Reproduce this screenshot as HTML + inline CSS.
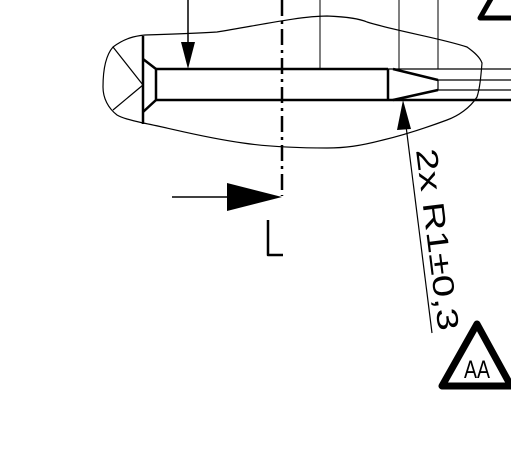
<!DOCTYPE html>
<html><head><meta charset="utf-8"><style>html,body{margin:0;padding:0;background:#fff}svg{display:block}</style></head>
<body>
<svg width="511" height="467" viewBox="0 0 511 467" xmlns="http://www.w3.org/2000/svg">
<g fill="none" stroke="#000" stroke-linejoin="round">
<path stroke-width="1.2" d="M113,47 C125,38 135,36 145,35 C175,34 200,33 217,32 C255,26 300,16 327,16 C350,17 360,19 367,22 C400,32 440,38 467,47 C474,52 480,57 482,63 C481,75 480,88 477,97 C470,108 458,116 447,120 C420,130 400,136 383,140 C360,146 345,148 327,148 C300,148 270,147 243,143 C200,137 170,128 143,123 C130,120 122,118 117,115 C108,108 103,98 103,87 C103,70 106,55 113,47 Z"/>
<line x1="113" y1="47" x2="143" y2="85" stroke-width="1.2"/>
<line x1="113" y1="110" x2="143" y2="85" stroke-width="1.2"/>
<line x1="143" y1="36" x2="143" y2="124" stroke-width="2.5"/>
<path d="M143,59 L156,69 L156,100 L143,112" stroke-width="2.5"/>
<line x1="156" y1="69" x2="388" y2="69" stroke-width="2.5"/>
<line x1="156" y1="100" x2="511" y2="100" stroke-width="2.5"/>
<line x1="388" y1="69" x2="388" y2="100" stroke-width="2.5"/>
<line x1="388" y1="69" x2="511" y2="69" stroke-width="1.2"/>
<line x1="393" y1="69" x2="438" y2="80" stroke-width="2.5"/>
<line x1="393" y1="100" x2="438" y2="90" stroke-width="2.5"/>
<line x1="438" y1="80" x2="438" y2="90" stroke-width="1.2"/>
<line x1="438" y1="80" x2="511" y2="80" stroke-width="1.2"/>
<line x1="438" y1="90" x2="511" y2="90" stroke-width="1.2"/>
<line x1="320" y1="0" x2="320" y2="69" stroke-width="1"/>
<line x1="399" y1="0" x2="399" y2="69" stroke-width="1"/>
<line x1="438" y1="0" x2="438" y2="69" stroke-width="1"/>
<line x1="282" y1="0" x2="282" y2="196" stroke-width="2.5" stroke-dasharray="16,5,3,5"/>
<line x1="188" y1="0" x2="188" y2="45" stroke-width="1.5"/>
<line x1="172" y1="197" x2="230" y2="197" stroke-width="1.5"/>
<path d="M268,220 L268,255 L283,255" stroke-width="2.5"/>
<line x1="405" y1="118" x2="432" y2="333" stroke-width="1.2"/>
<path d="M477,324 L442,386 L511,386 Z" stroke-width="7"/>
<path d="M496,-10 L480,18 L515,18" stroke-width="5"/>
</g>
<g fill="#000">
<path d="M181,42 L195,42 L188,69 Z"/>
<path d="M227,183 L282,197 L227,211 Z"/>
<path d="M403,100 L411,129 L397,130 Z"/>
</g>
<text transform="translate(416,150) rotate(82.9)" font-family="Liberation Sans Narrow, Liberation Sans, sans-serif" font-size="30" textLength="183" lengthAdjust="spacingAndGlyphs" fill="#000">2x R1±0,3</text>
<text x="477" y="378" text-anchor="middle" font-family="Liberation Sans Narrow, Liberation Sans, sans-serif" font-size="25" textLength="26" lengthAdjust="spacingAndGlyphs" fill="#000">AA</text>
</svg>
</body></html>
